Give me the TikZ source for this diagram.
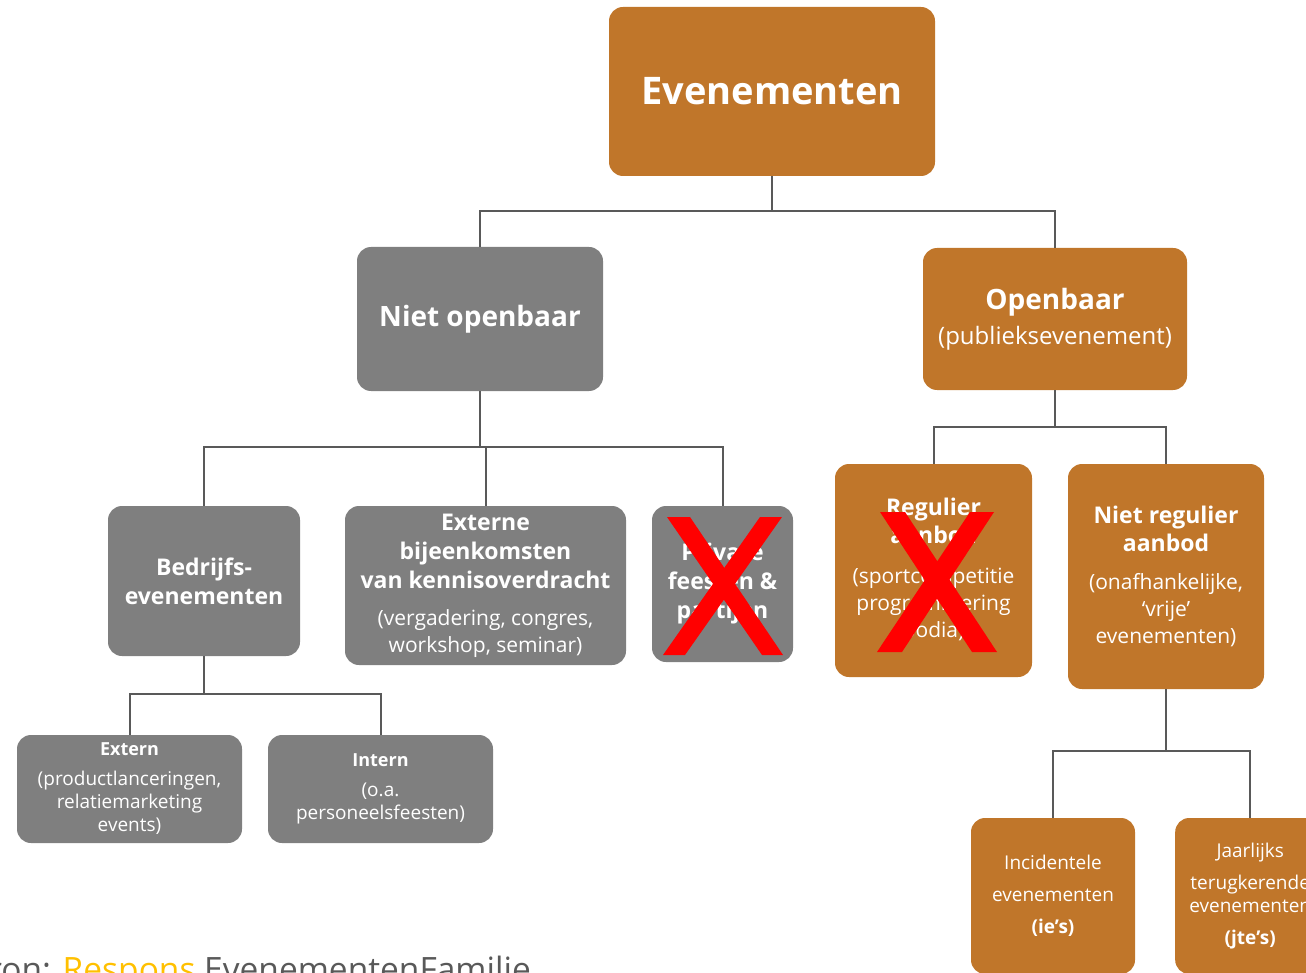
\documentclass[tikz,border=0pt]{standalone}
\usepackage{fontspec}
\setmainfont{Open Sans}

\definecolor{boxgrijs}{HTML}{7F7F7F}
\definecolor{boxoranje}{HTML}{C0762A}
\definecolor{lijngrijs}{HTML}{595959}
\definecolor{bronrood}{HTML}{FF0000}
\definecolor{brongeel}{HTML}{FFC000}

% fonts
\newcommand\titelfont{\fontsize{38}{46}\selectfont\bfseries}
\newcommand\kopfont{\fontsize{28}{34}\selectfont\bfseries}
\newcommand\middelfont{\fontsize{23}{29}\selectfont\bfseries}
\newcommand\uitlegfont{\fontsize{21}{26}\selectfont}
\newcommand\kleinfont{\fontsize{19}{23}\selectfont}

\tikzset{
  box/.style={rounded corners=14pt, inner sep=0pt, align=center, text=white},
  grijs/.style={box, fill=boxgrijs},
  oranje/.style={box, fill=boxoranje},
  conn/.style={draw=lijngrijs, line width=2pt},
  kruis/.style={fill=bronrood},
}

\begin{document}
\begin{tikzpicture}[x=1pt,y=-1pt]
      \useasboundingbox (0,0) rectangle (1306,973);
      \clip (0,0) rectangle (1306,973);
      % Top
      \node[oranje, minimum width=326pt, minimum height=169pt, font=\titelfont] (even) at (772,91.5) {Evenementen};
      % Level 1
      \node[grijs, minimum width=246pt, minimum height=144pt, font=\kopfont] (niet) at (480,319) {\raisebox{-2pt}{Niet openbaar}};
      \node[oranje, minimum width=264pt, minimum height=142pt, font=\kopfont] (open) at (1055,319)
        {Openbaar\\[1pt]{\fontsize{24}{29}\selectfont\mdseries (publieksevenement)}};
      \draw[conn] (even.south) -- ++(0,35) -| (niet.north);
      \draw[conn] (even.south) -- ++(0,35) -| (open.north);
      % Level 2, niet openbaar
      \node[grijs, minimum width=192pt, minimum height=150pt, font=\middelfont] (bedr) at (204,581) {Bedrijfs-\\evenementen};
      \node[grijs, minimum width=281pt, minimum height=159pt, font=\middelfont] (extb) at (485.5,585.5)
        {Externe\\bijeenkomsten\\van kennisoverdracht\\[8pt]
         {\uitlegfont\mdseries (vergadering, congres,}\\[-2pt]{\uitlegfont\mdseries workshop, seminar)}};
      \node[grijs, minimum width=141pt, minimum height=156pt, font=\middelfont] (priv) at (722.5,584) {Private\\feesten \&\\partijen};
      \draw[conn] (niet.south) -- ++(0,56) -| (bedr.north);
      \draw[conn] (niet.south) -- ++(0,56) -| (extb.north);
      \draw[conn] (niet.south) -- ++(0,56) -| (priv.north);
      % Level 2, openbaar
      \node[oranje, minimum width=197pt, minimum height=213pt, font=\middelfont] (regu) at (933.5,570.5)
        {Regulier\\[-1pt]aanbod\\[11pt]
         {\uitlegfont\mdseries (sportcompetitie}\\[-2pt]{\uitlegfont\mdseries programmering}\\[-2pt]{\uitlegfont\mdseries podia)}};
      \node[oranje, minimum width=196pt, minimum height=225pt, font=\middelfont] (nreg) at (1166,576.5)
        {Niet regulier\\[-1pt]aanbod\\[9pt]
         {\uitlegfont\mdseries (onafhankelijke,}\\[-2pt]{\uitlegfont\mdseries ‘vrije’}\\[-2pt]{\uitlegfont\mdseries evenementen)}};
      \draw[conn] (open.south) -- ++(0,37) -| (regu.north);
      \draw[conn] (open.south) -- ++(0,37) -| (nreg.north);
      % Crosses
      \fill[kruis] (667,517) -- (690,517) -- (783,655) -- (762,655) -- cycle;
      \fill[kruis] (760,517) -- (782,517) -- (685,655) -- (663,655) -- cycle;
      \fill[kruis] (880,512) -- (905,512) -- (997,652) -- (972,652) -- cycle;
      \fill[kruis] (970,512) -- (994,512) -- (902,652) -- (877,652) -- cycle;
      % Level 3, bedrijfsevenementen
      \node[grijs, minimum width=225pt, minimum height=108pt, font=\kleinfont] (extn) at (129.5,789)
        {{\fontsize{18}{22}\selectfont\bfseries Extern}\\[7pt](productlanceringen,\\[0pt]relatiemarketing\\[0pt]events)};
      \node[grijs, minimum width=225pt, minimum height=108pt, font=\kleinfont] (intn) at (380.5,789)
        {{\fontsize{18}{22}\selectfont\bfseries Intern}\\[7pt](o.a.\\[0pt]personeelsfeesten)};
      \draw[conn] (bedr.south) -- ++(0,38) -| (extn.north);
      \draw[conn] (bedr.south) -- ++(0,38) -| (intn.north);
      % Level 3, niet regulier
      \node[oranje, minimum width=164pt, minimum height=156pt, font=\kleinfont] (inci) at (1053,896)
        {Incidentele\\[9pt]evenementen\\[9pt]\textbf{(ie’s)}};
      \node[oranje, minimum width=150pt, minimum height=156pt, font=\kleinfont, anchor=west] (jaar) at (1175,896)
        {Jaarlijks\\[9pt]terugkerende\\evenementen\\[9pt]\textbf{(jte’s)}};
      \draw[conn] (nreg.south) -- ++(0,62) -| (inci.north);
      \draw[conn] (nreg.south) -- ++(0,62) -| (jaar.north);
      % Source
      \node[anchor=base east, inner sep=0pt, text=lijngrijs, font=\fontsize{33.5}{40}\selectfont] (bron) at (531,981)
        {Bron: \textcolor{brongeel}{Respons} EvenementenFamilie};
\end{tikzpicture}
\end{document}
